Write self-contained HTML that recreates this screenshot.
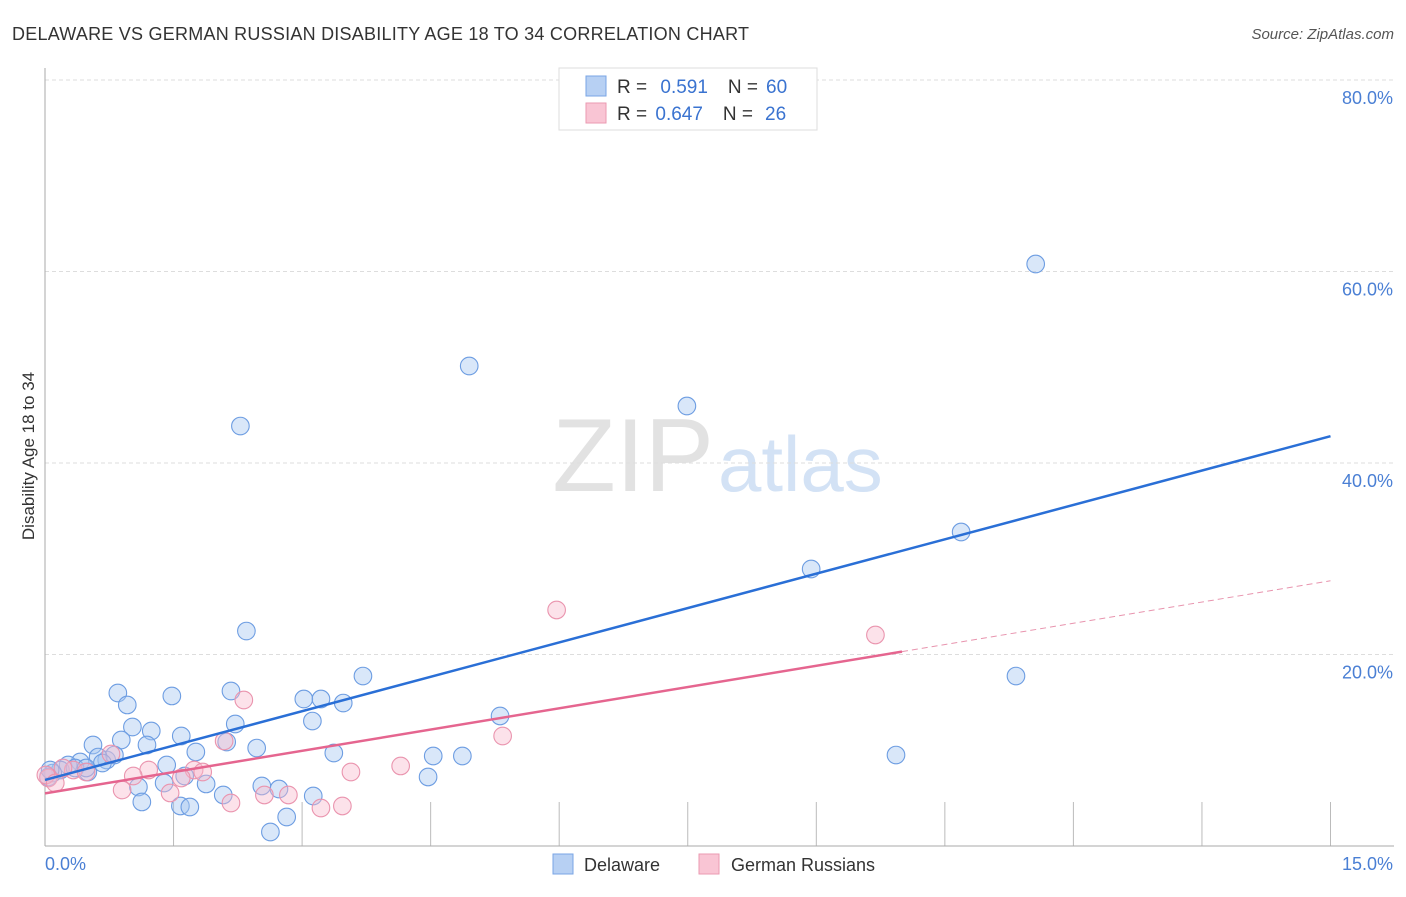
<!DOCTYPE html>
<html><head><meta charset="utf-8"><style>
body{margin:0;background:#fff;font-family:"Liberation Sans",sans-serif}
svg text{font-family:"Liberation Sans",sans-serif}
</style></head><body>
<svg id="chart" width="1406" height="892">
<text x="12" y="40" font-size="18" fill="#333" textLength="737">DELAWARE VS GERMAN RUSSIAN DISABILITY AGE 18 TO 34 CORRELATION CHART</text>
<text x="1394" y="39" font-size="15" font-style="italic" fill="#555" text-anchor="end">Source: ZipAtlas.com</text>
<text x="714" y="491" font-size="104" font-family="Liberation Serif" fill="#e2e2e2" text-anchor="end">ZIP</text>
<text x="718" y="491" font-size="78" fill="#d3e2f5">atlas</text>
<g id="grid"></g>
<line x1="45" y1="68" x2="45" y2="846" stroke="#aaa"/>
<line x1="45" y1="846" x2="1394" y2="846" stroke="#aaa"/>
<text transform="translate(34,456) rotate(-90)" font-size="17" fill="#333" text-anchor="middle">Disability Age 18 to 34</text>
<text x="45" y="870" font-size="18" fill="#4a7fd4">0.0%</text>
<text x="1393" y="870" font-size="18" fill="#4a7fd4" text-anchor="end">15.0%</text>
<g id="pts"></g>
<g id="lines"></g>
<g>
<rect x="559" y="68" width="258" height="62" fill="#fff" stroke="#ddd"/>
<rect x="586" y="76" width="20" height="20" fill="#b7d0f3" stroke="#7aa5e4"/>
<rect x="586" y="103" width="20" height="20" fill="#f9c5d4" stroke="#eb9ab2"/>
<text x="617" y="93" font-size="19" fill="#333">R = <tspan fill="#3a73d0" dx="8">0.591</tspan><tspan dx="20" fill="#333">N =</tspan><tspan dx="8" fill="#3a73d0">60</tspan></text>
<text x="617" y="120" font-size="19" fill="#333">R = <tspan fill="#3a73d0" dx="3">0.647</tspan><tspan dx="20" fill="#333">N =</tspan><tspan dx="12" fill="#3a73d0">26</tspan></text>
</g>
<g>
<rect x="553" y="854" width="20" height="20" fill="#b7d0f3" stroke="#7aa5e4"/>
<text x="584" y="871" font-size="18" fill="#333">Delaware</text>
<rect x="699" y="854" width="20" height="20" fill="#f9c5d4" stroke="#eb9ab2"/>
<text x="731" y="871" font-size="18" fill="#333">German Russians</text>
</g>
</svg>
<script>
const yTicks=[20,40,60,80];
const xTicks=[0,1.5,3,4.5,6,7.5,9,10.5,12,13.5,15];
const blueX=[11.56,4.95,7.49,2.28,10.69,8.94,2.35,11.33,3.71,0.85,1.48,2.17,3.02,3.22,3.48,0.96,3.12,1.02,1.24,2.22,1.59,5.31,0.56,0.89,1.19,2.12,1.76,2.47,3.37,4.53,4.87,9.93,0.72,0.81,0.62,1.42,0.41,0.27,0.18,0.09,0.50,0.04,4.47,1.88,2.53,2.73,1.39,1.09,2.08,3.13,1.13,1.58,1.69,2.82,2.63,0.67,0.35,0.48,0.06,1.63];
const blueY=[60.78,50.13,45.95,43.86,32.79,28.93,22.45,17.75,17.75,15.98,15.67,16.19,15.35,15.35,14.93,14.73,13.05,12.43,12.01,12.74,11.49,13.58,10.55,11.07,10.55,10.86,9.82,10.23,9.71,9.40,9.40,9.50,8.98,9.50,9.29,8.46,8.77,8.46,7.94,7.62,7.73,7.21,7.21,6.48,6.27,5.95,6.58,6.16,5.33,5.22,4.60,4.18,4.07,3.03,1.46,8.67,8.15,8.15,7.94,7.31];
const pinkX=[5.97,9.69,2.32,5.34,2.09,0.77,4.15,3.57,1.21,1.74,1.84,1.03,1.59,0.90,1.46,2.56,2.84,2.17,3.22,3.47,0.33,0.21,0.04,0.48,0.01,0.12];
const pinkY=[24.65,22.04,15.25,11.49,10.97,9.61,8.36,7.73,7.94,7.94,7.73,7.31,7.10,5.85,5.54,5.33,5.33,4.49,3.97,4.18,7.94,8.15,7.10,7.73,7.42,6.58];
const blueFit=[6.9,42.8];
const pinkFit=[5.5,27.7];
const pinkSolidEnd=10;
const NS='http://www.w3.org/2000/svg';
const sx=v=>45+v*85.7, sy=v=>846-v*9.575;
function mk(t,a,p){const e=document.createElementNS(NS,t);for(const k in a)e.setAttribute(k,a[k]);p.appendChild(e);return e;}
const grid=document.getElementById('grid');
yTicks.forEach(t=>{
 const l=mk('line',{x1:45,x2:1394,y1:sy(t),y2:sy(t),stroke:'#ddd','stroke-dasharray':'4 3'},grid);
 
 
 const tx=mk('text',{x:1393,y:sy(t)+24,'font-size':18,fill:'#4a7fd4','text-anchor':'end'},grid);
 tx.textContent=t.toFixed(1)+'%';
 
 
});
xTicks.forEach(t=>{
 const l=mk('line',{x1:sx(t),x2:sx(t),y1:802,y2:846,stroke:'#bbb'},grid);
 
 
});
const pts=document.getElementById('pts');
blueX.forEach((x,i)=>{
 const c=mk('circle',{cx:sx(x),cy:sy(blueY[i]),r:8.8,fill:'rgba(165,198,240,0.42)',stroke:'#6d9de2','stroke-width':1.1},pts);
 
 
});
pinkX.forEach((x,i)=>{
 const c=mk('circle',{cx:sx(x),cy:sy(pinkY[i]),r:8.8,fill:'rgba(248,186,204,0.42)',stroke:'#ea94ae','stroke-width':1.1},pts);
 
 
});
const lines=document.getElementById('lines');
const b=mk('line',{x1:sx(0),y1:sy(blueFit[0]),x2:sx(15),y2:sy(blueFit[1]),stroke:'#2a6fd6','stroke-width':2.5},lines);


const pm=pinkFit[0]+(pinkFit[1]-pinkFit[0])*pinkSolidEnd/15;
const p1=mk('line',{x1:sx(0),y1:sy(pinkFit[0]),x2:sx(pinkSolidEnd),y2:sy(pm),stroke:'#e5658f','stroke-width':2.5},lines);


const p2=mk('line',{x1:sx(pinkSolidEnd),y1:sy(pm),x2:sx(15),y2:sy(pinkFit[1]),stroke:'#e894ae','stroke-width':1,'stroke-dasharray':'6 4'},lines);


</script>
</body></html>
